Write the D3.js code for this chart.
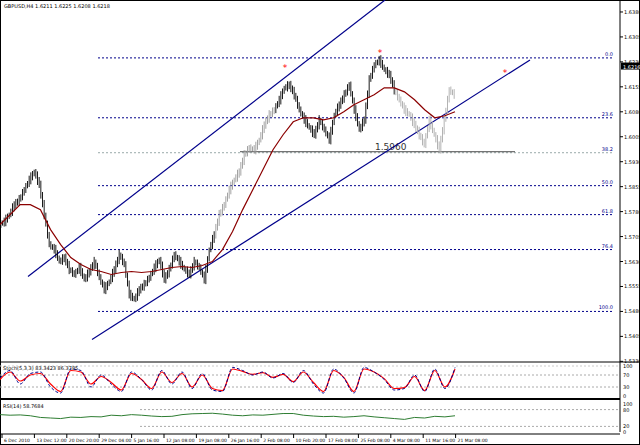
<!DOCTYPE html>
<html><head><meta charset="utf-8">
<script src="https://cdn.jsdelivr.net/npm/d3@7"></script>
<style>body{margin:0;background:#fff}svg{display:block}text{font-family:"DejaVu Sans",sans-serif}</style>
</head><body><svg id="c" width="640" height="445"></svg>
<script>
const title = "GBPUSD,H4  1.6211 1.6225 1.6208 1.6218";
const dateLabels = ["6 Dec 2010","13 Dec 12:00","20 Dec 20:00","29 Dec 04:00","5 Jan 16:00","12 Jan 08:00","19 Jan 08:00","26 Jan 16:00","2 Feb 08:00","10 Feb 20:00","17 Feb 08:00","25 Feb 08:00","4 Mar 08:00","11 Mar 16:00","21 Mar 08:00"];
const priceTicks = [1.6380,1.6305,1.6230,1.6155,1.6080,1.6005,1.5930,1.5855,1.5780,1.5705,1.5630,1.5555,1.5480,1.5405,1.5330];
const closes = [1.5741,1.5750,1.5771,1.5801,1.5816,1.5846,1.5876,1.5900,1.5861,1.5771,1.5681,1.5666,1.5630,1.5642,1.5606,1.5591,1.5612,1.5576,1.5600,1.5630,1.5582,1.5546,1.5570,1.5606,1.5651,1.5621,1.5531,1.5516,1.5546,1.5561,1.5582,1.5612,1.5636,1.5576,1.5606,1.5651,1.5630,1.5606,1.5591,1.5630,1.5612,1.5576,1.5666,1.5711,1.5771,1.5801,1.5846,1.5876,1.5900,1.5951,1.5972,1.5966,1.5996,1.6041,1.6071,1.6086,1.6116,1.6152,1.6161,1.6131,1.6086,1.6056,1.6032,1.6011,1.6056,1.6026,1.5996,1.6071,1.6101,1.6131,1.6161,1.6086,1.6026,1.6056,1.6176,1.6221,1.6236,1.6206,1.6191,1.6146,1.6116,1.6086,1.6071,1.6041,1.6011,1.5981,1.6056,1.6011,1.5966,1.6056,1.6146,1.6131];
const ma = [1.5741,1.5771,1.5801,1.5801,1.5786,1.5726,1.5681,1.5642,1.5621,1.5606,1.5600,1.5591,1.5597,1.5600,1.5597,1.5600,1.5606,1.5612,1.5615,1.5612,1.5618,1.5630,1.5666,1.5720,1.5786,1.5846,1.5906,1.5966,1.6011,1.6050,1.6062,1.6062,1.6056,1.6062,1.6080,1.6101,1.6116,1.6131,1.6152,1.6152,1.6140,1.6116,1.6086,1.6062,1.6068,1.6080];
const stochK = [60,85,40,75,80,30,10,90,85,30,70,40,15,80,55,20,85,40,80,25,75,20,15,95,85,70,80,60,75,45,85,40,10,90,60,10,95,80,55,20,25,70,15,90,25,95];
const stochD = [55,80,50,70,75,40,15,85,80,40,65,45,20,75,55,25,80,45,75,30,70,25,18,90,82,72,78,62,72,48,80,45,15,85,62,15,90,80,58,25,28,65,18,85,30,90];
const rsi = [62,60,61,58,52,50,48,53,52,55,54,60,58,62,60,57,55,56,62,65,66,67,64,60,58,61,60,63,66,66,60,57,55,56,53,55,58,54,51,48,45,52,50,56,54,58];
const fibLevels = ["0.0","23.6","38.2","50.0","61.8","76.4","100.0"];
const fibPrices = [1.6242,1.6062,1.5957,1.5858,1.5771,1.5666,1.5480];
const upperChannel = [[5.6,1.5585],[77,1.6416]];
const lowerChannel = [[18.4,1.5396],[106,1.6236]];
const peakIdx = [57,76,101];
const peakPrices = [1.6212,1.6257,1.6197];
const supportPrice = 1.5960;

const svg = d3.select("#c");
const R = 620;
svg.append("rect").attr("x",0.5).attr("y",0.5).attr("width",639).attr("height",444).attr("fill","none").attr("stroke","#000");
const x = d3.scaleLinear().domain([0,124]).range([0,R]);
const y = d3.scaleLinear().domain([1.6416,1.5310]).range([0,368]);
const main = svg.append("g");
main.append("clipPath").attr("id","cp").append("rect").attr("width",R).attr("height",362);
const g = main.append("g").attr("clip-path","url(#cp)");
fibPrices.forEach((p,i)=>{
  g.append("line").attr("x1",98).attr("x2",R-6).attr("y1",y(p)).attr("y2",y(p))
   .attr("stroke",i==2?"#9aa":"#00008b").attr("stroke-dasharray","2,2");
  svg.append("text").attr("x",R-7).attr("y",y(p)-2).attr("text-anchor","end").attr("font-size",5).attr("fill","#00008b").text(fibLevels[i]);
});
g.append("line").attr("x1",240).attr("x2",515).attr("y1",y(supportPrice)).attr("y2",y(supportPrice)).attr("stroke","#000").attr("stroke-width",0.7);
g.append("text").attr("x",375).attr("y",y(supportPrice)-2).attr("font-size",9).attr("fill","#333").text("1.5960");
[upperChannel,lowerChannel].forEach(c=>{
  g.append("line").attr("x1",x(c[0][0])).attr("y1",y(c[0][1])).attr("x2",x(c[1][0])).attr("y2",y(c[1][1])).attr("stroke","#00008b").attr("stroke-width",1.2);
});
closes.forEach((c,i)=>{
  if(i==0) return;
  const p = closes[i-1];
  const col = (i>43&&i<56)?"#999":(i>79?"#aaa":"#000");
  for(let k=0;k<3;k++){
    const t0=p+(c-p)*k/3, t1=p+(c-p)*(k+1)/3, xx=x(i-1+(k+0.5)/3);
    const sp = 0.0006+0.0008*((i*7+k*3)%5)/4;
    const lo=Math.min(t0,t1)-sp, hi=Math.max(t0,t1)+sp;
    g.append("line").attr("x1",xx).attr("x2",xx).attr("y1",y(hi)).attr("y2",y(lo)).attr("stroke",col).attr("stroke-width",0.9);
  }
});
g.append("path").attr("fill","none").attr("stroke","#8b0000").attr("stroke-width",1.2)
 .attr("d",d3.line().x((d,i)=>x(i*(closes.length-1)/(ma.length-1))).y(d=>y(d))(ma));
peakIdx.forEach((k,i)=>g.append("text").attr("x",x(k)).attr("y",y(peakPrices[i])+3).attr("text-anchor","middle").attr("font-size",9).attr("fill","red").text("*"));
svg.append("line").attr("x1",R).attr("x2",R).attr("y1",0).attr("y2",432).attr("stroke","#000");
priceTicks.forEach(p=>{
  svg.append("line").attr("x1",R).attr("x2",R+3).attr("y1",y(p)).attr("y2",y(p)).attr("stroke","#000");
  svg.append("text").attr("x",R+4).attr("y",y(p)+2).attr("font-size",5).text(p.toFixed(4));
});
svg.append("rect").attr("x",R+1).attr("y",y(1.6216)-4).attr("width",19).attr("height",7).attr("fill","#000");
svg.append("text").attr("x",R+3).attr("y",y(1.6216)+2).attr("font-size",5).attr("fill","#fff").text("1.6216");
svg.append("text").attr("x",4).attr("y",8).attr("font-size",5).text(title);
svg.append("line").attr("x1",0).attr("x2",640).attr("y1",362).attr("y2",362).attr("stroke","#000");
const ys = d3.scaleLinear().domain([0,100]).range([396,366]);
[100,70,30,0].forEach(v=>{
  if(v!=0) svg.append("line").attr("x1",0).attr("x2",R).attr("y1",ys(v)).attr("y2",ys(v)).attr("stroke",v==100?"#ccc":"#aaa").attr("stroke-dasharray","2,2");
  svg.append("text").attr("x",R+3).attr("y",ys(v)+2).attr("font-size",5).text(v);
});
const sx = (d,i)=>x(i*(closes.length-1)/(stochK.length-1));
svg.append("path").attr("fill","none").attr("stroke","red").attr("stroke-width",1.2).attr("d",d3.line().x(sx).y(d=>ys(d)).curve(d3.curveMonotoneX)(stochD));
svg.append("path").attr("fill","none").attr("stroke","#00008b").attr("stroke-width",1).attr("stroke-dasharray","3,2").attr("d",d3.line().x(sx).y(d=>ys(d)).curve(d3.curveMonotoneX)(stochK));
svg.append("text").attr("x",3).attr("y",370).attr("font-size",5).text("Stoch(5,3,3) 83.3423 86.3785");
svg.append("line").attr("x1",0).attr("x2",R).attr("y1",399).attr("y2",399).attr("stroke","#000").attr("stroke-width",2);
const yr = d3.scaleLinear().domain([0,100]).range([432,404]);
[80,20].forEach(v=>svg.append("line").attr("x1",140).attr("x2",R).attr("y1",yr(v)).attr("y2",yr(v)).attr("stroke","#aaa").attr("stroke-dasharray","2,2"));
[100,80,20,0].forEach(v=>svg.append("text").attr("x",R+3).attr("y",yr(v)+2).attr("font-size",5).text(v));
svg.append("path").attr("fill","none").attr("stroke","#2e7d32").attr("stroke-width",1).attr("d",d3.line().x(sx).y(d=>yr(d))(rsi));
svg.append("text").attr("x",3).attr("y",408).attr("font-size",5).text("RSI(14) 58.7684");
svg.append("line").attr("x1",0).attr("x2",R).attr("y1",434).attr("y2",434).attr("stroke","#000");
dateLabels.forEach((t,i)=>{
  const xx = 2+i*32.4;
  svg.append("line").attr("x1",xx).attr("x2",xx).attr("y1",434).attr("y2",438).attr("stroke","#000");
  svg.append("text").attr("x",xx+2).attr("y",442).attr("font-size",4.5).text(t);
});
</script></body></html>
